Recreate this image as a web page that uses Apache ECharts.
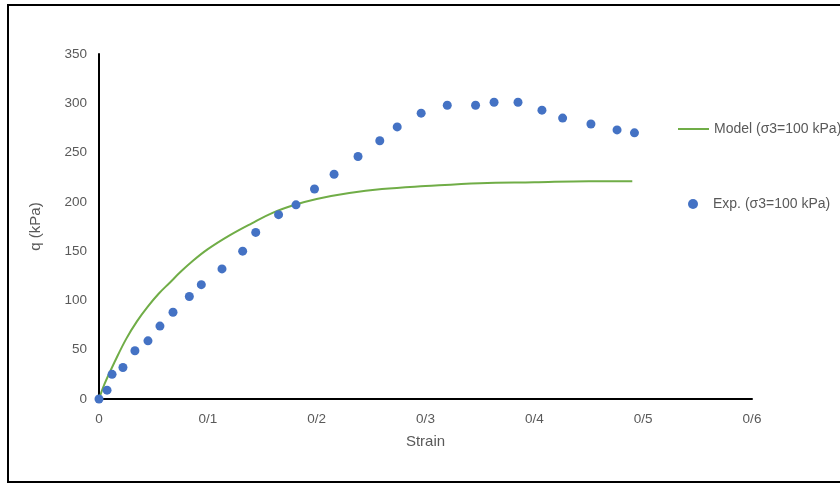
<!DOCTYPE html>
<html>
<head>
<meta charset="utf-8">
<script src="https://cdn.jsdelivr.net/npm/echarts@6/dist/echarts.min.js"></script>
<style>
  html, body { margin: 0; padding: 0; background: #fff; }
  #main { width: 840px; height: 484px; }
</style>
</head>
<body>
<div id="main"></div>
<script>
// 试验点 (Exp.)
var expStrain = [0, 0.0074, 0.012, 0.022, 0.033, 0.045, 0.056, 0.068, 0.083, 0.094,
  0.113, 0.132, 0.144, 0.165, 0.181, 0.198, 0.216, 0.238, 0.258, 0.274,
  0.296, 0.320, 0.346, 0.363, 0.385, 0.407, 0.426, 0.452, 0.476, 0.492]
var expQ = [0, 9, 25, 32, 49, 59, 74, 88, 104, 116,
  132, 150, 169, 187, 197, 213, 228, 246, 262, 276,
  290, 298, 298, 301, 301, 293, 285, 279, 273, 270]
// 模型曲线 (Model)
var modelStrain = [0, 0.005, 0.015, 0.025, 0.035, 0.045, 0.055, 0.065, 0.075, 0.085,
  0.1, 0.12, 0.14, 0.16, 0.18, 0.2, 0.23, 0.26, 0.3, 0.35, 0.4, 0.45, 0.49]
var modelQ = [0, 15, 39, 61, 79, 94, 107, 118, 129, 139,
  152, 166, 178, 189, 197, 203, 209, 213, 216, 219, 220, 221, 221]
var xTicks = [0, 0.1, 0.2, 0.3, 0.4, 0.5, 0.6]
var yTicks = [0, 50, 100, 150, 200, 250, 300, 350]

var modelName = 'Model (σ3=100 kPa)'
var expName = 'Exp. (σ3=100 kPa)'

function zip(a, b) {
  return a.map(function (v, i) { return [v, b[i]] })
}

var chart = echarts.init(document.getElementById('main'), null, { renderer: 'canvas' })
var font = 'Liberation Sans, Arial, sans-serif'
var grey = '#595959'

var option = {
  animation: false,
  textStyle: { fontFamily: font },
  graphic: [{
    type: 'rect',
    shape: { x: 8, y: 5, width: 900, height: 477 },
    style: { fill: 'none', stroke: '#000', lineWidth: 2 },
    silent: true
  }],
  grid: { left: 99, right: 88, top: 54, bottom: 85 },
  legend: [{
    data: [{ name: modelName, icon: 'rect' }],
    left: 673, top: 117,
    itemWidth: 31, itemHeight: 2,
    textStyle: { color: grey, fontSize: 14, fontFamily: font }
  }, {
    data: [{ name: expName, icon: 'circle' }],
    left: 683, top: 192,
    itemWidth: 30, itemHeight: 10,
    textStyle: { color: grey, fontSize: 14, fontFamily: font }
  }],
  xAxis: {
    type: 'value',
    min: xTicks[0], max: xTicks[xTicks.length - 1], interval: 0.1,
    name: 'Strain', nameLocation: 'middle', nameGap: 35,
    nameTextStyle: { color: grey, fontSize: 15, fontFamily: font },
    axisLine: { show: true, lineStyle: { color: '#000', width: 2 } },
    axisTick: { show: false },
    splitLine: { show: false },
    axisLabel: {
      color: grey, fontSize: 13.5, margin: 13, fontFamily: font,
      formatter: function (v) { return String(+v.toFixed(1)).replace('.', '/') }
    }
  },
  yAxis: {
    type: 'value',
    min: yTicks[0], max: yTicks[yTicks.length - 1], interval: 50,
    name: 'q (kPa)', nameLocation: 'middle', nameGap: 56,
    nameTextStyle: { color: grey, fontSize: 15, fontFamily: font },
    axisLine: { show: true, lineStyle: { color: '#000', width: 2 } },
    axisTick: { show: false },
    splitLine: { show: false },
    axisLabel: { color: grey, fontSize: 13.5, margin: 12, fontFamily: font }
  },
  series: [{
    name: modelName,
    type: 'line',
    data: zip(modelStrain, modelQ),
    smooth: 0.4,
    showSymbol: false,
    lineStyle: { color: '#70AD47', width: 2 },
    itemStyle: { color: '#70AD47' },
    z: 2
  }, {
    name: expName,
    type: 'scatter',
    data: zip(expStrain, expQ),
    symbolSize: 9,
    itemStyle: { color: '#4472C4', opacity: 1 },
    z: 3
  }]
}
chart.setOption(option)
</script>
</body>
</html>
